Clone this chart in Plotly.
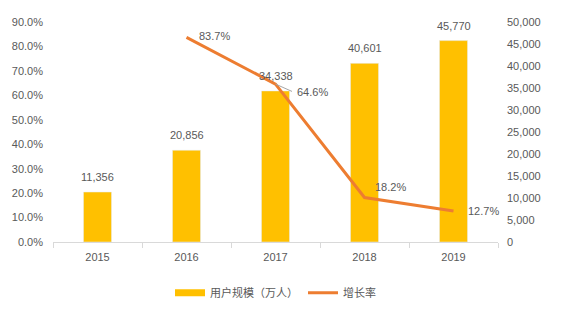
import plotly.graph_objects as go

years = ["2015", "2016", "2017", "2018", "2019"]
users = [11356, 20856, 34338, 40601, 45770]          # 用户规模（万人）
growth_years = ["2016", "2017", "2018", "2019"]
growth = [83.7, 64.6, 18.2, 12.7]                      # 增长率 (%)

BAR = "#FFC000"
LINE = "#ED7D31"
TXT = "#595959"
AX = "#D9D9D9"
NUM_FONT = dict(family="Liberation Sans, Arial, sans-serif", size=11, color=TXT)
CJK_FONT = dict(family="Noto Sans CJK SC, sans-serif", size=11, color=TXT)

# position of each year on the x axis
xpos = {y: i for i, y in enumerate(years)}
bar_x = [xpos[y] for y in years]
line_x = [xpos[y] for y in growth_years]

fig = go.Figure()

# bars on the primary (right-side) axis so the line draws on top
fig.add_trace(go.Bar(
    x=bar_x, y=users, marker_color=BAR, width=0.315,
    showlegend=False, yaxis="y", hoverinfo="skip",
))
fig.add_trace(go.Scatter(
    x=line_x, y=growth, mode="lines",
    line=dict(color=LINE, width=3), yaxis="y2",
    name="增长率", showlegend=False,
))

# legend entries
fig.add_trace(go.Scatter(x=[0], y=[None], mode="lines",
                         line=dict(color=BAR, width=7), name="用户规模（万人）"))
fig.add_trace(go.Scatter(x=[0], y=[None], mode="lines", yaxis="y2",
                         line=dict(color=LINE, width=3), name="增长率"))

# value labels above bars
for x, v in zip(bar_x, users):
    fig.add_annotation(x=x, y=v, yref="y", text=f"{v:,}", showarrow=False,
                       yshift=15, font=NUM_FONT)

# growth labels
offsets = {
    "2016": (10, 1),
    "2017": (19, -8),
    "2018": (8, 11),
    "2019": (12, 0),
}
for yr, x, v in zip(growth_years, line_x, growth):
    dx, dy = offsets[yr]
    fig.add_annotation(x=x, y=v, yref="y2", text=f"{v:.1f}%", showarrow=False,
                       xanchor="left", xshift=dx, yshift=dy, font=NUM_FONT)

# leader line for the 2017 label
fig.add_annotation(x=xpos["2017"], y=64.6, yref="y2", text="", showarrow=True,
                   ax=18, ay=8, arrowhead=0, arrowwidth=1, arrowcolor="#A6A6A6",
                   standoff=0)

fig.update_layout(
    width=578, height=322,
    margin=dict(l=53, r=80, t=22, b=80),
    paper_bgcolor="white", plot_bgcolor="white",
    xaxis=dict(
        range=[-0.5, len(years) - 0.5],
        tickmode="array", tickvals=bar_x, ticktext=years, ticks="",
        minor=dict(tickmode="array",
                   tickvals=[i - 0.5 for i in range(len(years) + 1)],
                   ticks="outside", ticklen=5, tickcolor=AX, showgrid=False),
        showline=True, linecolor=AX, linewidth=1, zeroline=False,
        showgrid=False, tickfont=NUM_FONT, tickangle=0,
        ticklabelstandoff=5,
    ),
    yaxis=dict(
        side="right", range=[0, 50000], dtick=5000, tickformat=",",
        showgrid=False, zeroline=False, showline=False, tickfont=NUM_FONT,
        ticklabelstandoff=8,
    ),
    yaxis2=dict(
        side="left", overlaying="y", range=[0, 90], dtick=10,
        ticksuffix="%", tickformat=".1f",
        showgrid=False, zeroline=False, showline=False, tickfont=NUM_FONT,
        ticklabelstandoff=9,
    ),
    legend=dict(
        orientation="h", x=0.5, xanchor="center", y=-0.165, yanchor="top",
        font=CJK_FONT, itemwidth=30,
    ),
)

fig.write_html("out.html")
